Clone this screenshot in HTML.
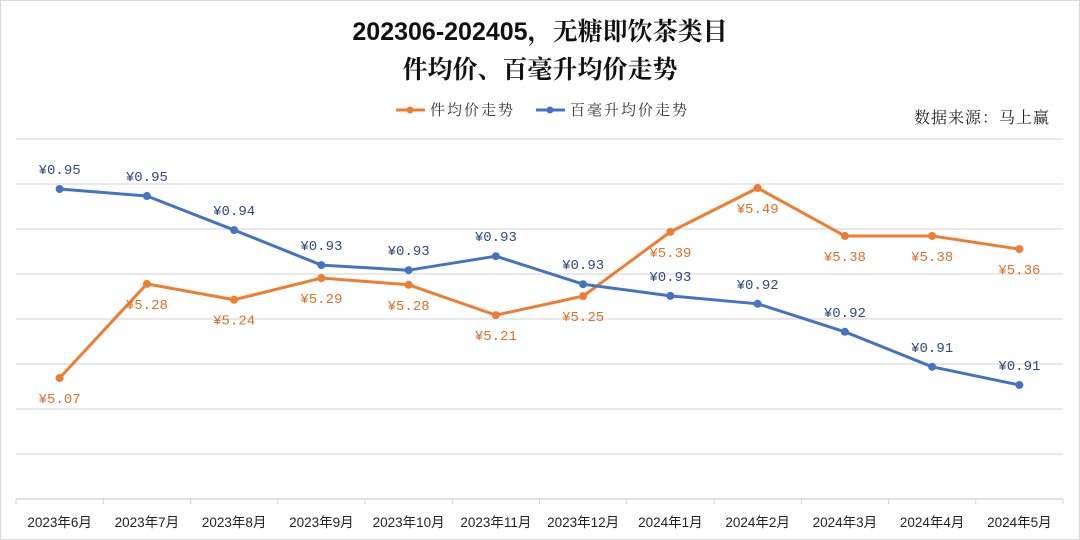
<!DOCTYPE html>
<html><head><meta charset="utf-8"><style>
html,body{margin:0;padding:0;background:#fff}
svg{display:block}
</style></head><body>
<svg id="chart" width="1080" height="540" viewBox="0 0 1080 540" style="font-family:'Liberation Sans','Noto Sans CJK SC',sans-serif">
<rect x="0.5" y="0.5" width="1079" height="539" fill="#fff" stroke="#d9d9d9"/>
<text x="540" y="40" text-anchor="middle" font-size="25" font-weight="bold" fill="#111" style="font-family:'Liberation Sans','Noto Serif CJK SC',serif">202306-202405，无糖即饮茶类目</text>
<text x="540" y="78" text-anchor="middle" font-size="25" font-weight="bold" fill="#111" style="font-family:'Noto Serif CJK SC',serif">件均价、百毫升均价走势</text>
<g>
<g>
<line x1="396" y1="110" x2="425" y2="110" stroke="#ed7d31" stroke-width="3"/><circle cx="410" cy="110" r="3.5" fill="#ed7d31"/>
<text x="430" y="115" font-size="15" fill="#333" style="font-family:'Noto Serif CJK SC',serif;letter-spacing:2px">件均价走势</text></g>
<g>
<line x1="536" y1="110" x2="565" y2="110" stroke="#4472c4" stroke-width="3"/><circle cx="550" cy="110" r="3.5" fill="#4472c4"/>
<text x="570" y="115" font-size="15" fill="#333" style="font-family:'Noto Serif CJK SC',serif;letter-spacing:2px">百毫升均价走势</text></g>
</g>
<text x="1050" y="123" text-anchor="end" font-size="16" fill="#222" style="font-family:'Noto Serif CJK SC',serif;letter-spacing:1px">数据来源：马上赢</text>
<g id="grid"></g><g id="axis"></g><g id="series"></g>
</svg>
<script>
const categories=["2023年6月","2023年7月","2023年8月","2023年9月","2023年10月","2023年11月","2023年12月","2024年1月","2024年2月","2024年3月","2024年4月","2024年5月"];
const unitPrice=[5.07,5.278,5.243,5.291,5.276,5.209,5.251,5.393,5.49,5.384,5.384,5.355];
const per100ml=[0.948,0.9465,0.9392,0.9317,0.9306,0.9336,0.9276,0.9251,0.9234,0.9174,0.9099,0.906];
const gridValues=[0,1,2,3,4,5,6,7,8];
const NS="http://www.w3.org/2000/svg";
const L=16,R=1063,T=139,B=499,bw=(R-L)/categories.length;
const xC=i=>L+bw*(i+0.5);
const yGrid=k=>B-k*45;
const yOrange=v=>378-(v-5.07)*452.4;
const yBlue=v=>189+(0.948-v)*4667;
function mk(tag,attrs,parent){const e=document.createElementNS(NS,tag);for(const k in attrs)e.setAttribute(k,attrs[k]);parent.appendChild(e);return e;}
const grid=document.getElementById('grid'),axis=document.getElementById('axis'),ser=document.getElementById('series');
gridValues.forEach(k=>{if(k===0)return;const l=mk('line',{x1:L,x2:R,y1:yGrid(k),y2:yGrid(k),stroke:'#d9d9d9','stroke-width':1.2},grid);

});
const ax=mk('line',{x1:L,x2:R,y1:B,y2:B,stroke:'#d0d0d0','stroke-width':1.2},axis);


for(let i=0;i<=categories.length;i++){const t=mk('line',{x1:L+bw*i,x2:L+bw*i,y1:B,y2:B+5,stroke:'#d0d0d0'},axis);

}
categories.forEach((c,i)=>{const t=mk('text',{x:xC(i),y:527,'text-anchor':'middle','font-size':13.5,fill:'#222'},axis);t.textContent=c;

});
function draw(vals,yf,color,name,dy,dec){
const p=mk('polyline',{points:vals.map((v,i)=>xC(i)+','+yf(v)).join(' '),fill:'none',stroke:color,'stroke-width':3,'stroke-linejoin':'round'},ser);


vals.forEach((v,i)=>{const c=mk('circle',{cx:xC(i),cy:yf(v),r:4,fill:color},ser);


const t=mk('text',{x:xC(i),y:yf(v)+dy,'text-anchor':'middle','font-size':14,fill:color==='#ed7d31'?'#d9712a':'#2f4a7c',style:"font-family:'Liberation Mono',monospace"},ser);t.textContent='¥'+v.toFixed(dec);

});}
draw(unitPrice,yOrange,'#ed7d31','unit-price',25,2);
draw(per100ml,yBlue,'#4472c4','per-100ml-price',-15,2);
</script>
</body></html>
